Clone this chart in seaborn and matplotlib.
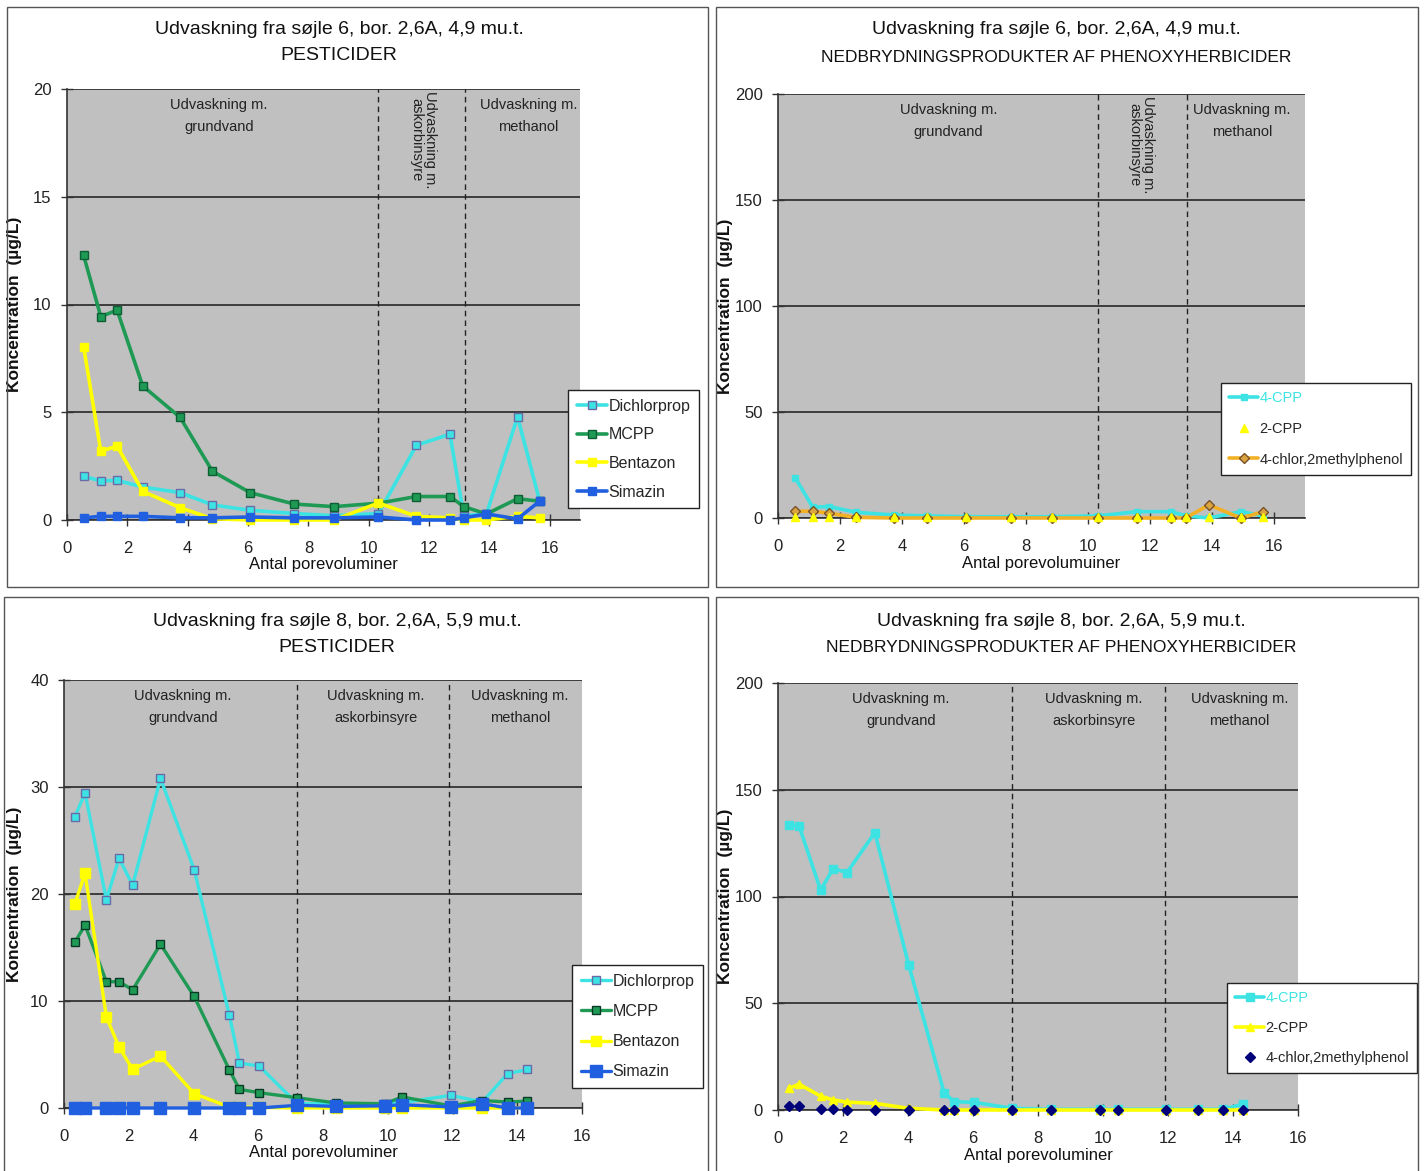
import matplotlib
matplotlib.use("Agg")
import matplotlib.pyplot as plt
import seaborn as sns
from matplotlib.patches import Rectangle

# ---------------- data ----------------
x6 = [0.55, 1.12, 1.66, 2.51, 3.75, 4.82, 6.07, 7.53, 8.85, 10.32, 11.58, 12.69, 13.15, 13.90, 14.93, 15.66]
dichlorprop6 = [2.03, 1.81, 1.84, 1.53, 1.27, 0.70, 0.45, 0.30, 0.20, 0.30, 3.47, 3.98, 0.20, 0.28, 4.79, 0.90]
mcpp6 = [12.28, 9.44, 9.74, 6.22, 4.76, 2.26, 1.27, 0.74, 0.62, 0.78, 1.09, 1.09, 0.62, 0.28, 0.99, 0.87]
bentazon6 = [8.05, 3.19, 3.43, 1.33, 0.57, 0.06, 0.0, 0.0, 0.0, 0.79, 0.17, 0.10, 0.0, 0.0, 0.17, 0.10]
simazin6 = [0.10, 0.17, 0.17, 0.17, 0.10, 0.10, 0.14, 0.10, 0.10, 0.14, 0.0, 0.0, 0.10, 0.28, 0.05, 0.87]

cpp4_6 = [19.1, 5.1, 5.4, 2.7, 1.4, 1.0, 0.6, 0.6, 0.6, 1.0, 3.0, 3.0, 1.0, 0.0, 3.0, 1.0]
cpp2_6 = [0.3, 0.3, 0.3, 0.3, 0.3, 0.3, 0.3, 0.3, 0.3, 0.3, 0.3, 0.3, 0.3, 0.3, 0.3, 0.3]
chlor6 = [3.2, 3.2, 2.2, 0.3, 0.0, 0.0, 0.0, 0.0, 0.0, 0.0, 0.0, 0.0, 0.0, 6.2, 0.0, 3.0]

x8 = [0.33, 0.65, 1.31, 1.70, 2.12, 2.98, 4.02, 5.11, 5.42, 6.03, 7.20, 8.41, 9.90, 10.45, 11.95, 12.92, 13.70, 14.31]
dichlorprop8 = [27.17, 29.44, 19.45, 23.34, 20.82, 30.81, 22.28, 8.65, 4.20, 3.92, 0.40, 0.40, 0.40, 0.50, 1.18, 0.56, 3.20, 3.60]
mcpp8 = [15.47, 17.09, 11.80, 11.80, 11.05, 15.31, 10.43, 3.55, 1.74, 1.43, 0.96, 0.47, 0.40, 1.03, 0.20, 0.70, 0.56, 0.65]
bentazon8 = [19.02, 21.94, 8.50, 5.70, 3.61, 4.86, 1.34, 0.10, 0.10, 0.05, 0.0, 0.0, 0.0, 0.0, 0.0, 0.0, 0.0, 0.0]
simazin8 = [0.0, 0.0, 0.0, 0.0, 0.0, 0.0, 0.0, 0.0, 0.0, 0.0, 0.25, 0.15, 0.20, 0.30, 0.10, 0.40, 0.0, 0.0]

cpp4_8 = [133.3, 133.0, 103.0, 113.1, 111.2, 129.9, 68.0, 8.1, 3.9, 3.6, 0.8, 0.3, 0.3, 0.3, 0.3, 0.3, 0.3, 2.8]
cpp2_8 = [10.1, 12.1, 6.5, 4.7, 3.7, 3.1, 0.8, 0.0, 0.0, 0.0, 0.0, 0.0, 0.0, 0.0, 0.0, 0.0, 0.0, 0.0]
chlor8 = [1.9, 2.0, 0.3, 0.6, 0.0, 0.0, 0.0, 0.0, 0.0, 0.0, 0.0, 0.0, 0.0, 0.0, 0.0, 0.0, 0.0, 0.0]

title_top = "Udvaskning fra søjle 6, bor. 2,6A, 4,9 mu.t."
title_bot = "Udvaskning fra søjle 8, bor. 2,6A, 5,9 mu.t."
sub_pest = "PESTICIDER"
sub_phen = "NEDBRYDNINGSPRODUKTER AF PHENOXYHERBICIDER"
ylabel = "Koncentration  (µg/L)"
xlabel_a = "Antal porevoluminer"
xlabel_b = "Antal porevolumuiner"
reg_grund = "Udvaskning m.\ngrundvand"
reg_askorb = "Udvaskning m.\naskorbinsyre"
reg_meth = "Udvaskning m.\nmethanol"

# ---------------- style ----------------
sns.set_style("white")
FONT = ["Liberation Sans", "DejaVu Sans"]
plt.rcParams["font.family"] = FONT

CYAN = "#3DE3E3"
GREEN = "#1E9A55"
YELLOW = "#FFFF00"
BLUE = "#1F5FE0"
ORANGE = "#F2B024"
NAVY = "#00007A"
GRID = "#333333"

W, H = 1425, 1171
fig = plt.figure(figsize=(W / 100, H / 100), dpi=100)


def fx(px):
    return px / W


def fy(py):
    return 1 - py / H


def make_ax(l, t, r, b):
    return fig.add_axes([fx(l), fy(b), fx(r) - fx(l), fy(t) - fy(b)])


# panel frames
for (l, t, r, b) in [(7, 7, 708, 587), (716, 7, 1418, 587), (4, 597, 708, 1180), (716, 597, 1418, 1180)]:
    fig.patches.append(Rectangle((fx(l), fy(b)), fx(r) - fx(l), fy(t) - fy(b), transform=fig.transFigure,
                                 fill=False, edgecolor="#555555", lw=1.0))


def style(ax, xmax, ymax, ystep, dashes):
    ax.set_facecolor("#C0C0C0")
    ax.set_xlim(0, xmax)
    ax.set_ylim(0, ymax)
    ax.set_xticks(list(range(0, 17, 2)))
    ax.set_yticks(list(range(0, ymax + 1, ystep)))
    ax.grid(axis="y", color=GRID, lw=1.3)
    ax.grid(axis="x", visible=False)
    ax.set_axisbelow(True)
    for s in ["top", "right"]:
        ax.spines[s].set_visible(False)
    for s in ["left", "bottom"]:
        ax.spines[s].set_color("#333333")
        ax.spines[s].set_linewidth(1.2)
    ax.tick_params(axis="both", direction="inout", length=8, width=1, color="#333333",
                   labelsize=12, labelcolor="#222222", left=True, bottom=True)
    ax.tick_params(axis="x", pad=11)
    ax.tick_params(axis="y", pad=7)
    for d in dashes:
        ax.axvline(d, color="#222222", lw=1.0, ls=(0, (4, 3)), zorder=1.5)


def labels(ax, xl, xlab_y, ylab_x):
    ax.set_xlabel(xl, fontsize=12, color="#111111")
    ax.xaxis.set_label_coords(0.5, xlab_y)
    ax.xaxis.label.set_va("center")
    ax.set_ylabel(ylabel, fontsize=12.5, fontweight="bold", color="#111111")
    ax.yaxis.set_label_coords(ylab_x, 0.5)


def region_text(ax, x, txt, rot=0):
    if rot == 0:
        ax.text(x, 0.978, txt, transform=ax.get_xaxis_transform(), ha="center", va="top",
                fontsize=10.5, color="#222222", linespacing=1.7)
    else:
        ax.text(x, 0.995, txt, transform=ax.get_xaxis_transform(), ha="center", va="top",
                fontsize=10.5, color="#222222", rotation=-90, linespacing=1.0)


def line(ax, x, y, color, marker, label, mec=None, ms=6, lw=2.6, mfc=None):
    sns.lineplot(x=x, y=y, ax=ax, color=color, lw=lw, marker=marker, ms=ms,
                 mfc=mfc if mfc else color, mec=mec if mec else color, mew=1.0,
                 label=label, clip_on=False, estimator=None, sort=False, zorder=3)


def points(ax, x, y, color, marker, label, ms, mec=None):
    ax.plot(x, y, ls="none", marker=marker, ms=ms, color=color, mec=mec if mec else color,
            label=label, clip_on=False, zorder=4)


def legend(ax, lx, ty, fs=11.5, spacing=0.85, hl=1.9, colored=None):
    leg = ax.legend(loc="upper left", bbox_to_anchor=(fx(lx), fy(ty)), bbox_transform=fig.transFigure,
                    frameon=True, fancybox=False, framealpha=1, edgecolor="#222222", facecolor="white",
                    fontsize=fs, labelspacing=spacing, handlelength=hl, handletextpad=0.1,
                    borderpad=0.55, borderaxespad=0)
    leg.get_frame().set_linewidth(1.0)
    if colored:
        for t in leg.get_texts():
            if t.get_text() == colored:
                t.set_color(CYAN)
    return leg


# ---------------- top-left ----------------
ax1 = make_ax(67, 89, 580, 520)
style(ax1, 17, 20, 5, [10.3, 13.18])
line(ax1, x6, dichlorprop6, CYAN, "s", "Dichlorprop", mec="#6A6AA8")
line(ax1, x6, mcpp6, GREEN, "s", "MCPP", mec="#0E5E33")
line(ax1, x6, bentazon6, YELLOW, "s", "Bentazon")
line(ax1, x6, simazin6, BLUE, "s", "Simazin")
region_text(ax1, 5.03, reg_grund)
region_text(ax1, 11.8, reg_askorb, rot=-90)
region_text(ax1, 15.3, reg_meth)
labels(ax1, xlabel_a, -0.104, -0.088)
legend(ax1, 568, 390, spacing=0.85)

# ---------------- top-right ----------------
ax2 = make_ax(778, 94, 1305, 518)
style(ax2, 17, 200, 50, [10.31, 13.19])
line(ax2, x6, cpp4_6, CYAN, "s", "4-CPP", ms=5)
points(ax2, x6, cpp2_6, YELLOW, "^", "2-CPP", ms=6)
line(ax2, x6, chlor6, ORANGE, "D", "4-chlor,2methylphenol", mec="#7A5028", mfc="#D9A441", ms=5)
region_text(ax2, 5.49, reg_grund)
region_text(ax2, 11.72, reg_askorb, rot=-90)
region_text(ax2, 14.96, reg_meth)
labels(ax2, xlabel_b, -0.108, -0.085)
legend(ax2, 1221, 383, fs=10.5, spacing=1.15, hl=2.0, colored="4-CPP")

# ---------------- bottom-left ----------------
ax3 = make_ax(64, 680, 582, 1108)
style(ax3, 16, 40, 10, [7.2, 11.89])
line(ax3, x8, dichlorprop8, CYAN, "s", "Dichlorprop", mec="#6A6AA8", lw=2.4)
line(ax3, x8, mcpp8, GREEN, "s", "MCPP", mec="#0A3A25", lw=2.4)
line(ax3, x8, bentazon8, YELLOW, "s", "Bentazon", ms=7, lw=2.4)
line(ax3, x8, simazin8, BLUE, "s", "Simazin", ms=8, lw=2.4)
region_text(ax3, 3.68, reg_grund)
region_text(ax3, 9.64, reg_askorb)
region_text(ax3, 14.08, reg_meth)
labels(ax3, xlabel_a, -0.104, -0.081)
legend(ax3, 572, 965, spacing=0.95)

# ---------------- bottom-right ----------------
ax4 = make_ax(778, 683, 1298, 1110)
style(ax4, 16, 200, 50, [7.2, 11.9])
line(ax4, x8, cpp4_8, CYAN, "s", "4-CPP", ms=6)
line(ax4, x8, cpp2_8, YELLOW, "^", "2-CPP", ms=6)
points(ax4, x8, chlor8, NAVY, "D", "4-chlor,2methylphenol", ms=5)
region_text(ax4, 3.78, reg_grund)
region_text(ax4, 9.72, reg_askorb)
region_text(ax4, 14.2, reg_meth)
labels(ax4, xlabel_a, -0.106, -0.0865)
legend(ax4, 1227, 983, fs=10.5, spacing=1.1, hl=2.0, colored="4-CPP")

# ---------------- titles ----------------
for (cx, y1, y2, t1, t2, fs2) in [(339, 30, 56, title_top, sub_pest, 14),
                                  (1056, 30, 57, title_top, sub_phen, 12.5),
                                  (337, 621, 647, title_bot, sub_pest, 14),
                                  (1061, 621, 648, title_bot, sub_phen, 12.5)]:
    fig.text(fx(cx), fy(y1), t1, ha="center", va="center", fontsize=14, color="#111111")
    fig.text(fx(cx), fy(y2), t2, ha="center", va="center", fontsize=fs2, color="#111111")

fig.savefig("out.png", dpi=100, facecolor="white")
